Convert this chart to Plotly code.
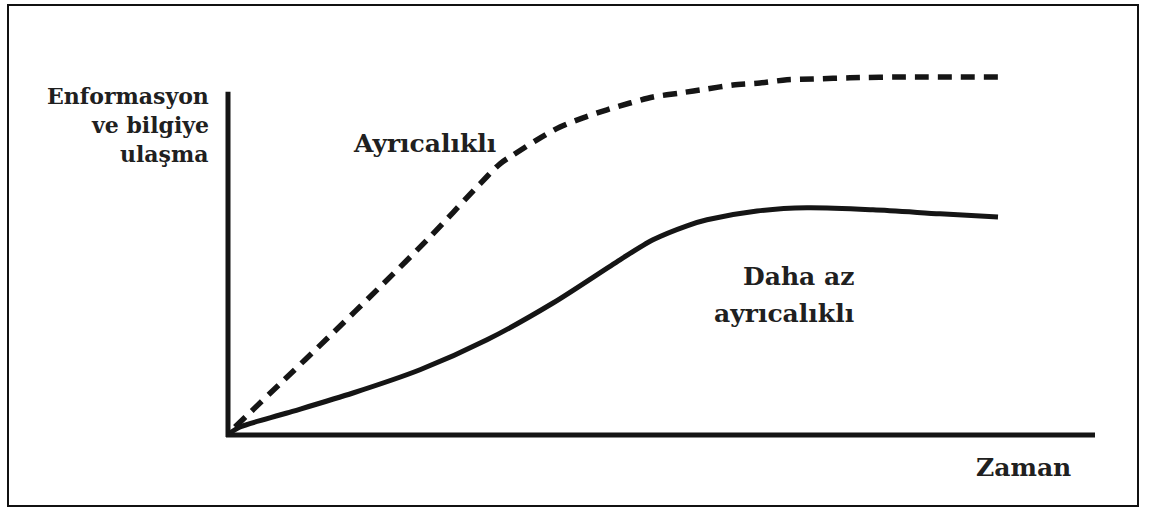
import plotly.graph_objects as go

# Time (arbitrary units) and access to information (arbitrary units)
priv_t = [0.5, 5.0, 10.0, 15.0, 20.0, 25.0, 27.0, 28.3, 30.7, 33.0, 35.3,
          37.7, 40.0, 42.3, 45.0, 47.7, 50.3, 53.0, 55.7, 58.3, 62.0, 67.0, 77.0]
priv_y = [1.5, 12.3, 24.3, 36.5, 49.0, 62.3, 67.3, 69.5, 73.3, 76.5, 78.8,
          80.8, 82.5, 84.0, 85.0, 86.0, 87.0, 87.5, 88.3, 88.5, 88.8, 89.0, 89.0]

less_t = [0.0, 1.0, 5.7, 12.3, 19.0, 25.7, 32.3, 39.0, 42.3, 45.7, 47.7, 52.7, 57.7, 64.3, 71.0, 76.8]
less_y = [0.0, 1.5, 5.0, 10.0, 15.8, 23.3, 32.5, 43.3, 48.3, 51.8, 53.3, 55.5, 56.3, 55.8, 54.8, 54.0]

labels_y = ["Enformasyon", "ve bilgiye", "ulaşma"]
label_x = "Zaman"
label_priv = "Ayrıcalıklı"
label_less = ["Daha az", "ayrıcalıklı"]

W, H = 1149, 510
FONT = "DejaVu Serif"
INK = "#151515"
TXT = "#202020"

fig = go.Figure()
fig.add_trace(go.Scatter(x=priv_t, y=priv_y, mode="lines", line_shape="spline",
                         line=dict(color=INK, width=5.5, dash="14px,9px", smoothing=0.8),
                         hoverinfo="skip"))
fig.add_trace(go.Scatter(x=less_t, y=less_y, mode="lines", line_shape="spline",
                         line=dict(color=INK, width=5, smoothing=0.8), hoverinfo="skip"))

shapes = [
    # y axis and x axis (drawn as lines in data coordinates)
    dict(type="line", xref="x", yref="y", x0=-0.2, x1=-0.2, y0=-1.0, y1=85.3,
         line=dict(color=INK, width=5)),
    dict(type="line", xref="x", yref="y", x0=-0.4, x1=86.5, y0=-0.5, y1=-0.5,
         line=dict(color=INK, width=5)),
    # outer frame
    dict(type="rect", xref="paper", yref="paper", x0=8 / W, x1=1138 / W,
         y0=1 - 506 / H, y1=1 - 5 / H, line=dict(color="#111", width=2)),
]

def px(x):
    return x / W

def py(y):
    return 1 - y / H

ann = []
for txt, yc in zip(labels_y, [96, 125, 154]):
    ann.append(dict(text=txt, x=px(211), y=py(yc), xanchor="right", yanchor="middle"))
ann.append(dict(text=label_priv, x=px(351), y=py(143), xanchor="left", yanchor="middle", size=25))
ann.append(dict(text=label_less[0], x=px(856), y=py(276), xanchor="right", yanchor="middle", size=25))
ann.append(dict(text=label_less[1], x=px(856), y=py(313), xanchor="right", yanchor="middle", size=25))
ann.append(dict(text=label_x, x=px(974), y=py(467), xanchor="left", yanchor="middle", size=25))

annotations = []
for a in ann:
    size = a.pop("size", 22)
    annotations.append(dict(xref="paper", yref="paper", showarrow=False,
                            text="<b>" + a.pop("text") + "</b>",
                            font=dict(family=FONT, size=size, color=TXT), **a))

fig.update_layout(
    width=W, height=H, margin=dict(l=0, r=0, t=0, b=0),
    paper_bgcolor="white", plot_bgcolor="white", showlegend=False,
    xaxis=dict(range=[-23.0, 91.9], visible=False, fixedrange=True),
    yaxis=dict(range=[-19.25, 108.25], visible=False, fixedrange=True),
    shapes=shapes, annotations=annotations,
)

fig.write_html("out.html", config={"displayModeBar": False},
               post_script="document.body.style.margin='0';document.body.style.overflow='hidden';")
